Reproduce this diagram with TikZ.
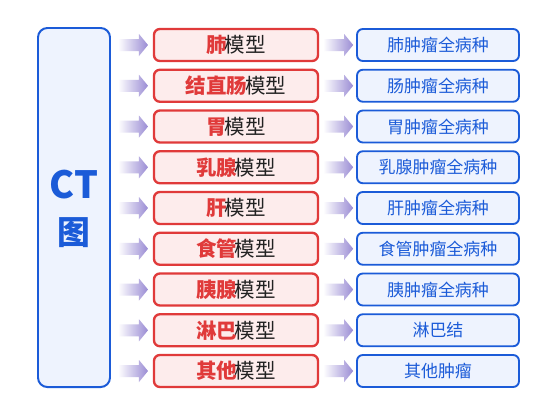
\documentclass[tikz,border=0pt]{standalone}
\usepackage{fontspec}
\setmainfont{Noto Sans CJK SC}
\usetikzlibrary{calc}

\definecolor{ctblue}{HTML}{1B5BD8}
\definecolor{bluefill}{HTML}{EEF3FE}
\definecolor{modelred}{HTML}{E03A3A}
\definecolor{redfill}{HTML}{FDECEC}
\definecolor{arrowpurple}{HTML}{9A8CD4}
\definecolor{textgray}{HTML}{222222}

\begin{document}
\begin{tikzpicture}
[
	x=0.03cm, y=-0.03cm,
	ctbox/.style={draw=ctblue,fill=bluefill,line width=1.7pt,rounded corners=8pt,minimum width=2.16cm,minimum height=10.77cm,inner sep=0pt},
	modelbox/.style={draw=modelred,fill=redfill,line width=2pt,rounded corners=5pt,minimum width=4.92cm,minimum height=0.96cm,inner sep=0pt,text=textgray,font=\fontsize{17.5}{20}\selectfont},
	tumorbox/.style={draw=ctblue,fill=bluefill,line width=1.6pt,rounded corners=5pt,minimum width=4.86cm,minimum height=0.96cm,inner sep=0pt,text=ctblue,font=\fontsize{14.5}{17}\selectfont},
	fatarrow/.style={left color=white,right color=arrowpurple,shading angle=90}
]

	% frame
	\fill[white] (0,0) rectangle (534,406);
	\useasboundingbox (0,0) rectangle (534,406);

	% left box
	\node[ctbox] (ct) at (74,207.5) {};
	\node[text=ctblue,font=\fontsize{32}{34}\selectfont\bfseries] (cttext) at (74,185) {CT};
	\node[text=ctblue,font=\fontsize{28}{30}\selectfont\bfseries] (tu) at (74,233) {图};

	% model and tumor rows
	\foreach [count=\i] \org/\tum in {肺/肺肿瘤全病种,结直肠/肠肿瘤全病种,胃/胃肿瘤全病种,乳腺/乳腺肿瘤全病种,肝/肝肿瘤全病种,食管/食管肿瘤全病种,胰腺/胰肿瘤全病种,淋巴/淋巴结,其他/其他肿瘤} {
		\node[modelbox] (model\i) at (236,{45+40.75*(\i-1)}) {\textcolor{modelred}{\bfseries\org}\kern-0.1em 模型};
		\node[tumorbox] (tumor\i) at (438,{45+40.75*(\i-1)}) {\tum};

		% arrows
		\coordinate (a\i) at ($(ct.east |- model\i.west)+(7,0)$);
		\coordinate (b\i) at ($(model\i.east)+(4,0)$);
		\shade[fatarrow] (a\i) ++(0,-6) -- ++(21,0) -- ++(0,-5) -- ++(9,11) -- ++(-9,11) -- ++(0,-5) -- ++(-21,0) -- cycle;
		\shade[fatarrow] (b\i) ++(0,-6) -- ++(21,0) -- ++(0,-5) -- ++(9,11) -- ++(-9,11) -- ++(0,-5) -- ++(-21,0) -- cycle;
	}

\end{tikzpicture}
\end{document}
